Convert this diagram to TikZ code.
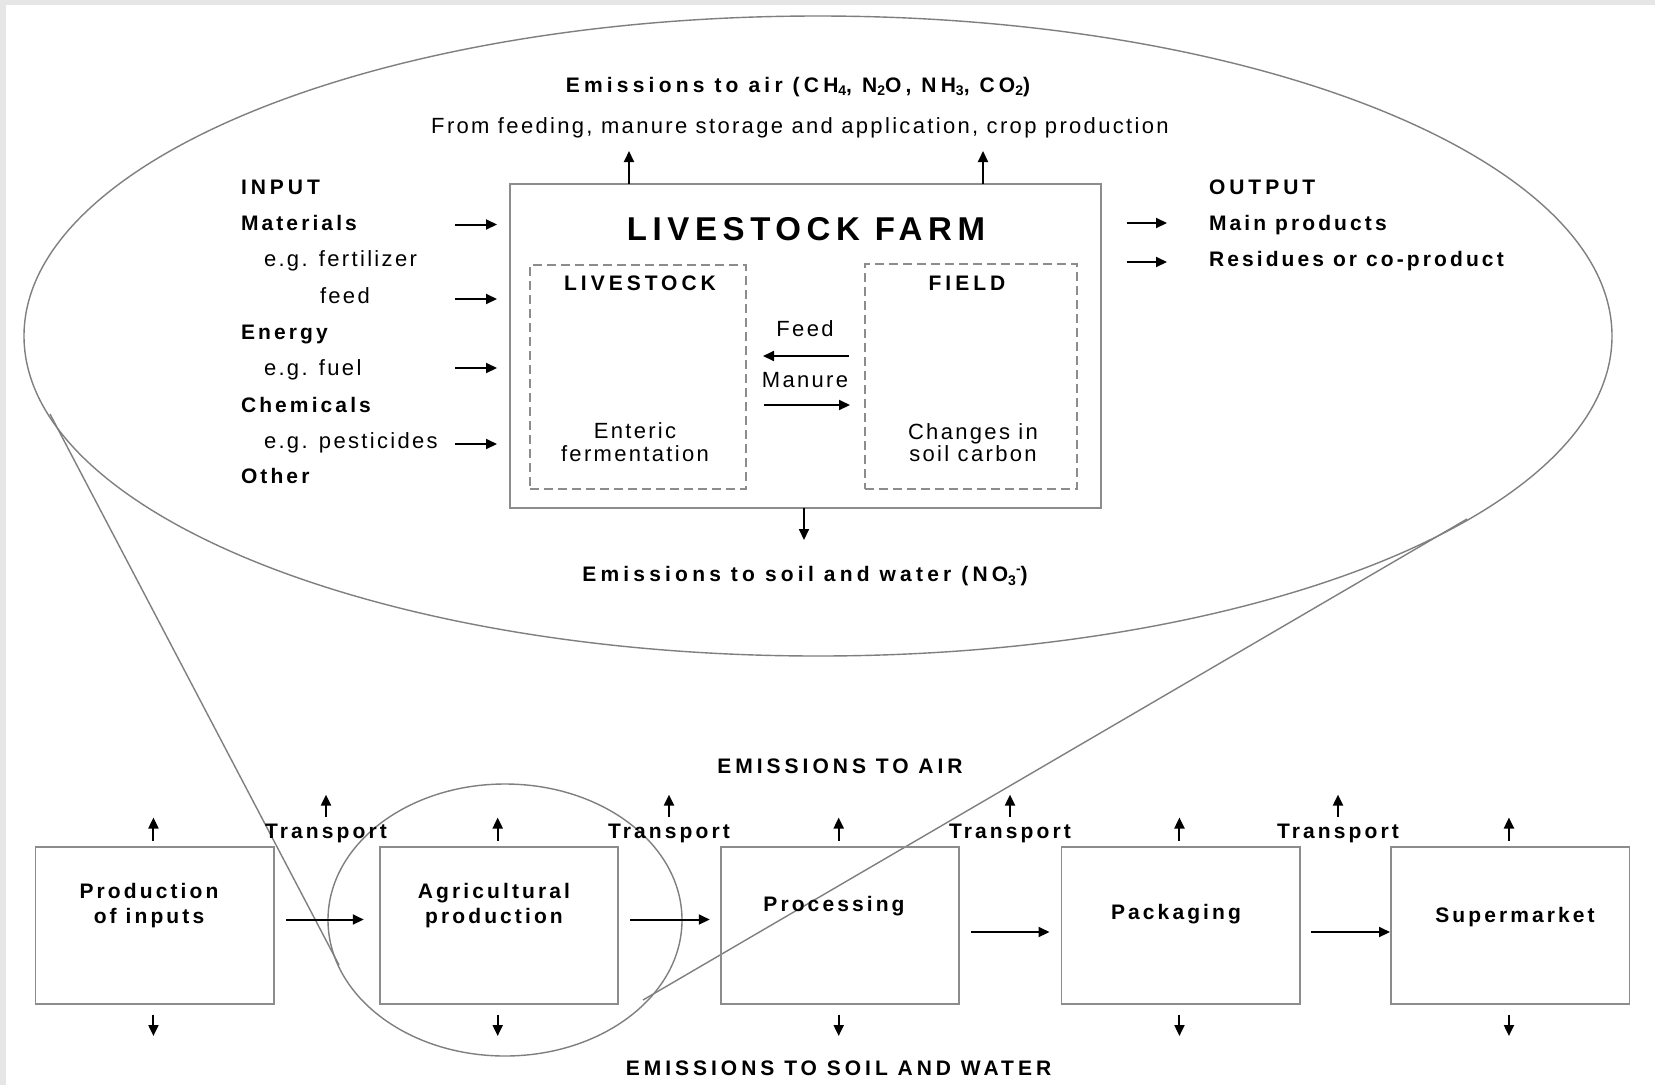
\documentclass[tikz,border=0pt]{standalone}
\usepackage{fontspec}
\setmainfont{Liberation Sans}
\newfontfamily\rfam{Liberation Sans}[LetterSpace=10.6]
\newfontfamily\bfam{Liberation Sans}[LetterSpace=14.8]
\newfontfamily\efam{Liberation Sans}[LetterSpace=20]
\newfontfamily\ufam{Liberation Sans}[LetterSpace=19]
\newfontfamily\tfam{Liberation Sans}[LetterSpace=17]
\usetikzlibrary{arrows.meta}
\definecolor{bggrey}{HTML}{E6E6E6}
\definecolor{lgrey}{HTML}{7F7F7F}
\definecolor{dgrey}{HTML}{8C8C8C}
\newcommand\chsub[1]{\raisebox{-0.35ex}{\fontsize{14}{14}\selectfont #1}}
\newcommand\chsup[1]{\raisebox{0.75ex}{\fontsize{14}{14}\selectfont #1}}
\begin{document}
\begin{tikzpicture}[x=1pt,y=-1pt,
  every node/.style={inner sep=0pt,outer sep=0pt},
  reg/.style={font=\rfam\fontsize{22}{26}\selectfont},
  bld/.style={font=\bfam\bfseries\fontsize{21}{25}\selectfont},
  emi/.style={font=\efam\bfseries\fontsize{21}{25}\selectfont},
  upc/.style={font=\ufam\bfseries\fontsize{21}{25}\selectfont},
  arr/.style={line width=2pt,-{Triangle[length=11pt,width=10pt]}},
  gline/.style={draw=lgrey,line width=1.4pt},
  stagebox/.style={draw=dgrey,line width=1.6pt,rectangle,minimum width=238.5pt,minimum height=157pt},
  dbox/.style={draw=dgrey,line width=1.4pt,dashed,dash pattern=on 9pt off 5pt,rectangle}
]
\useasboundingbox (0,0) rectangle (1655,1085);
\fill[bggrey] (0,0) rectangle (1655,1085);
\fill[white] (6,5) rectangle (1655,1085);

% ---- zoom callout ----
\draw[gline] (818,336) ellipse [x radius=794, y radius=320];
\draw[gline] (505,920) ellipse [x radius=177, y radius=136];
\coordinate (bigL) at (50,414);
\coordinate (smallL) at (339,965);
\coordinate (bigR) at (1467,519);
\coordinate (smallR) at (643,1000);
\draw[gline] (bigL) -- (smallL);
\draw[gline] (bigR) -- (smallR);

% ---- livestock farm ----
\node[draw=dgrey,line width=1.6pt,rectangle,minimum width=591pt,minimum height=324pt] (farm) at (805.5,346) {};
\node[dbox,minimum width=216pt,minimum height=224pt] (ls) at (638,377) {};
\node[dbox,minimum width=212pt,minimum height=225pt] (fd) at (971,376.5) {};
\node[font=\tfam\bfseries\fontsize{33}{36}\selectfont,anchor=base] (title) at (806,240) {LIVESTOCK FARM};
\node[upc,anchor=base] (lslab) at (640,290.5) {LIVESTOCK};
\node[upc,anchor=base] (fdlab) at (967,290.5) {FIELD};
\node[reg,anchor=base] (ent1) at (635,438) {Enteric};
\node[reg,anchor=base] (ent2) at (635,461.5) {fermentation};
\node[reg,anchor=base] (soil1) at (973,439) {Changes in};
\node[reg,anchor=base] (soil2) at (973,461.5) {soil carbon};
\node[reg,anchor=base] (feedlab) at (805,336) {Feed};
\node[reg,anchor=base] (manlab) at (805,387) {Manure};
\draw[arr,shorten <=16pt,shorten >=17pt] (fd.west |- 0,356) -- (ls.east |- 0,356);
\draw[arr,shorten <=18pt,shorten >=15pt] (ls.east |- 0,405) -- (fd.west |- 0,405);

\node[emi,anchor=base] (eair) at (798,92) {Emissions to air (CH\chsub{4}, N\chsub{2}O, NH\chsub{3}, CO\chsub{2})};
\node[reg,anchor=base] (efrom) at (800,133) {From feeding, manure storage and application, crop production};
\draw[arr] (629,0 |- farm.north) -- (629,151);
\draw[arr] (983,0 |- farm.north) -- (983,151);
\draw[arr] (804,0 |- farm.south) -- (804,540);
\node[emi,anchor=base] (esoil) at (805,581.5) {Emissions to soil and water (NO\chsub{3}\chsup{-})};

% inputs
\node[upc,anchor=base west] (in) at (241,194.5) {INPUT};
\node[bld,anchor=base west] (mat) at (241,230.5) {Materials};
\node[reg,anchor=base west] (fert) at (264,266) {e.g. fertilizer};
\node[reg,anchor=base west] (feed) at (320,303) {feed};
\node[bld,anchor=base west] (ene) at (241,339.5) {Energy};
\node[reg,anchor=base west] (fuel) at (264,375) {e.g. fuel};
\node[bld,anchor=base west] (chem) at (241,412.5) {Chemicals};
\node[reg,anchor=base west] (pest) at (264,448) {e.g. pesticides};
\node[bld,anchor=base west] (oth) at (241,483.5) {Other};
\foreach \yy in {224.5,299,368,444}{
  \draw[arr,shorten >=13pt] (455,\yy) -- (farm.west |- 0,\yy);
}
% outputs
\node[upc,anchor=base west] (out) at (1209,194.5) {OUTPUT};
\node[bld,anchor=base west] (mainp) at (1209,230.5) {Main products};
\node[bld,anchor=base west] (resid) at (1209,266.5) {Residues or co-product};
\draw[arr,shorten <=26pt] (farm.east |- 0,223) -- (1167,223);
\draw[arr,shorten <=26pt] (farm.east |- 0,262) -- (1167,262);

% ---- chain ----
\node[upc,anchor=base] (eairlow) at (840,773.5) {EMISSIONS TO AIR};
\node[upc,anchor=base] (esoillow) at (838.5,1075) {EMISSIONS TO SOIL AND WATER};

\node[stagebox] (b1) at (154.75,925.5) {};
\node[stagebox] (b2) at (499,925.5) {};
\node[stagebox] (b3) at (840,925.5) {};
\node[stagebox] (b4) at (1180.75,925.5) {};
\node[stagebox] (b5) at (1510.25,925.5) {};

\node[bld,anchor=base] (t1a) at (149,898.5) {Production};
\node[bld,anchor=base] (t1b) at (149,923.5) {of inputs};
\node[bld,anchor=base] (t2a) at (494,898.5) {Agricultural};
\node[bld,anchor=base] (t2b) at (494,923.5) {production};
\node[bld,anchor=base] (t3) at (834,911.5) {Processing};
\node[bld,anchor=base] (t4) at (1176,919.5) {Packaging};
\node[bld,anchor=base] (t5) at (1515,922.5) {Supermarket};

\draw[arr,shorten <=12pt,shorten >=16pt] ([yshift=6pt]b1.east) -- ([yshift=6pt]b2.west);
\draw[arr,shorten <=12pt,shorten >=11pt] ([yshift=6pt]b2.east) -- ([yshift=6pt]b3.west);
\draw[arr,shorten <=12pt,shorten >=12pt] ([yshift=-6.5pt]b3.east) -- ([yshift=-6.5pt]b4.west);
\draw[arr,shorten <=11pt,shorten >=1pt] ([yshift=-6.5pt]b4.east) -- ([yshift=-6.5pt]b5.west);

\foreach \b in {b1,b2,b3,b4,b5}{
  \draw[arr] ([xshift=-1.3pt,yshift=6.5pt]\b.north) -- ++(0,-23);
  \draw[arr] ([xshift=-1.3pt,yshift=-10.7pt]\b.south) -- ++(0,21.3);
}
\foreach \n/\xx in {tr1/326,tr2/669,tr3/1010,tr4/1338}{
  \node[bld,anchor=base] (\n) at (\xx,838) {Transport};
  \draw[arr] (\xx,817) -- (\xx,794.6);
}
\end{tikzpicture}
\end{document}
